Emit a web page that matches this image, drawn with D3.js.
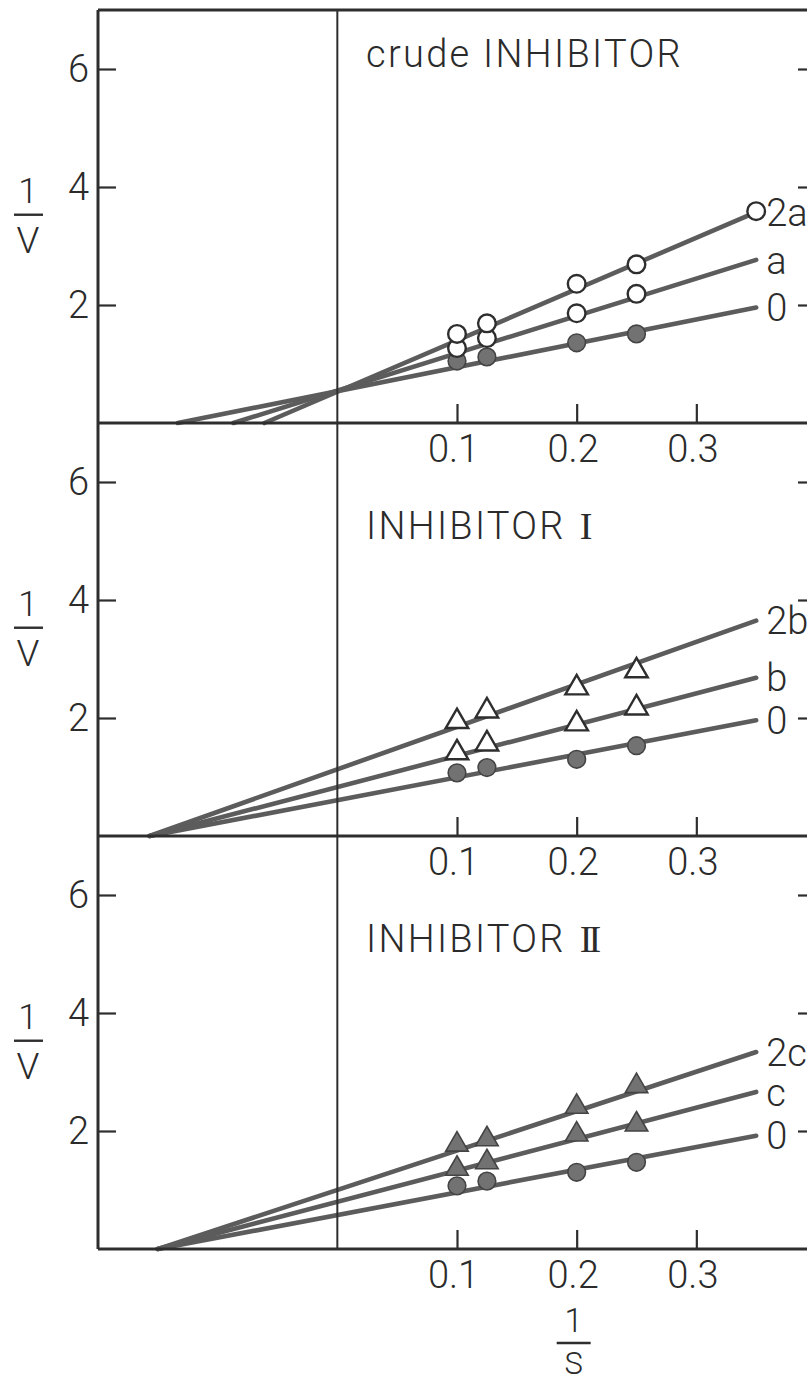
<!DOCTYPE html>
<html>
<head>
<meta charset="utf-8">
<script src="https://cdn.jsdelivr.net/npm/d3@7"></script>
<style>
  html, body { margin: 0; padding: 0; background: #fff; }
  svg { display: block; }
  text { font-family: Roboto, "Liberation Sans", sans-serif; font-weight: 300; fill: #2b2b2b; }
</style>
</head>
<body>
<svg id="chart" width="807" height="1385"></svg>
<script>
// Reciprocal substrate concentrations (1/S) at which rates were measured
const invS = [0.1, 0.125, 0.2, 0.25];
const invSLong = [0.1, 0.125, 0.2, 0.25, 0.35];

// Crude inhibitor: reciprocal velocities (1/V)
const crudeNone = [1.05, 1.12, 1.36, 1.51];
const crudeA = [1.27, 1.44, 1.86, 2.19];
const crude2A = [1.51, 1.69, 2.36, 2.69, 3.59];
const crudeLabels = ["0", "a", "2a"];
const crudeIntercepts = [0.54, 0.55, 0.53];
const crudeSlopes = [4.05, 6.33, 8.7];

// Inhibitor I
const inhINone = [1.07, 1.16, 1.30, 1.53];
const inhIB = [1.41, 1.56, 1.90, 2.17];
const inhI2B = [1.94, 2.12, 2.51, 2.80];
const inhILabels = ["0", "b", "2b"];
const inhIIntercepts = [0.607, 0.83, 1.13];
const inhISlopes = [3.87, 5.29, 7.2];

// Inhibitor II
const inhIINone = [1.07, 1.15, 1.30, 1.47];
const inhIIC = [1.36, 1.47, 1.94, 2.11];
const inhII2C = [1.77, 1.86, 2.41, 2.76];
const inhIILabels = ["0", "c", "2c"];
const inhIIIntercepts = [0.576, 0.80, 1.0];
const inhIISlopes = [3.84, 5.32, 6.68];

// Axis ticks
const xTicks = [0.1, 0.2, 0.3];
const yTicks = [2, 4, 6];
const fitEnd = 0.35;

const panels = [
  { title: "crude INHIBITOR", numeral: "",
    series: [
      { x: invS, y: crudeNone, marker: "circle", filled: true },
      { x: invS, y: crudeA, marker: "circle", filled: false },
      { x: invSLong, y: crude2A, marker: "circle", filled: false }
    ],
    labels: crudeLabels, intercepts: crudeIntercepts, slopes: crudeSlopes },
  { title: "INHIBITOR", numeral: "I",
    series: [
      { x: invS, y: inhINone, marker: "circle", filled: true },
      { x: invS, y: inhIB, marker: "triangle", filled: false },
      { x: invS, y: inhI2B, marker: "triangle", filled: false }
    ],
    labels: inhILabels, intercepts: inhIIntercepts, slopes: inhISlopes },
  { title: "INHIBITOR", numeral: "II",
    series: [
      { x: invS, y: inhIINone, marker: "circle", filled: true },
      { x: invS, y: inhIIC, marker: "triangle", filled: true },
      { x: invS, y: inhII2C, marker: "triangle", filled: true }
    ],
    labels: inhIILabels, intercepts: inhIIIntercepts, slopes: inhIISlopes }
];

const svg = d3.select("#chart");
const ink = "#2e2e2e";
const lineInk = "#5c5c5c";
const grayFill = "#727272";

const left = 98, right = 816;
const panelTop0 = 10, panelH = 413;

const x = d3.scaleLinear().domain([-0.2, 0.4]).range([left, right]);

panels.forEach((p, i) => {
  const top = panelTop0 + i * panelH;
  const bottom = top + panelH;
  const y = d3.scaleLinear().domain([0, 7]).range([bottom, top]);
  const g = svg.append("g");

  // fitted double-reciprocal lines, from the 1/S intercept to the last point
  const line = d3.line().x(d => x(d[0])).y(d => y(d[1]));
  p.intercepts.forEach((b, k) => {
    const m = p.slopes[k];
    const pts = [[-b / m, 0], [fitEnd, b + m * fitEnd]];
    g.append("path").attr("d", line(pts))
      .attr("fill", "none").attr("stroke", lineInk)
      .attr("stroke-width", 4.6).attr("stroke-linecap", "round");
    g.append("text")
      .attr("x", x(fitEnd) + 10)
      .attr("y", y(b + m * fitEnd))
      .attr("dy", "0.36em")
      .attr("font-size", 38)
      .text(p.labels[k]);
  });

  // measured points
  p.series.forEach(s => {
    const sym = d3.symbol()
      .type(s.marker === "circle" ? d3.symbolCircle : d3.symbolTriangle)
      .size(s.marker === "circle" ? 245 : 220);
    g.selectAll(null).data(s.x.map((v, j) => [v, s.y[j]])).join("path")
      .attr("d", sym)
      .attr("transform", d => `translate(${x(d[0])},${y(d[1])})`)
      .attr("fill", s.filled ? grayFill : "#fff")
      .attr("stroke", s.filled ? "#444" : ink)
      .attr("stroke-width", s.filled ? 1.6 : 2.4);
  });

  // panel title
  const t = g.append("text")
    .attr("x", 366)
    .attr("y", i === 0 ? top + 57 : top + 116)
    .attr("font-size", 38)
    .attr("letter-spacing", 2.3)
    .text(p.title);
  if (p.numeral) {
    t.append("tspan")
      .attr("font-family", "'Liberation Serif', serif")
      .attr("font-weight", 400)
      .attr("letter-spacing", p.numeral.length > 1 ? -4 : 0)
      .attr("dx", 14)
      .text(p.numeral);
  }

  // left axis ticks and labels
  const yAxis = d3.axisLeft(y).tickValues(yTicks).tickSize(-18).tickPadding(9)
    .tickFormat(d3.format("d"));
  const ya = g.append("g").attr("transform", `translate(${left},0)`).call(yAxis);
  ya.select(".domain").remove();
  ya.selectAll("line").attr("stroke", ink).attr("stroke-width", 2.2);
  ya.selectAll("text").attr("font-size", 38).attr("font-family", null).attr("fill", "#2b2b2b");

  // right axis ticks (frame lies just beyond the visible area)
  const yr = d3.axisRight(y).tickValues(yTicks).tickSize(-18).tickFormat("");
  const yra = g.append("g").attr("transform", `translate(${right},0)`).call(yr);
  yra.select(".domain").remove();
  yra.selectAll("line").attr("stroke", ink).attr("stroke-width", 2.2);

  // bottom axis ticks and labels
  const xAxis = d3.axisBottom(x).tickValues(xTicks).tickSize(-19).tickPadding(12)
    .tickFormat(d3.format(".1f"));
  const xa = g.append("g").attr("transform", `translate(0,${bottom})`).call(xAxis);
  xa.select(".domain").remove();
  xa.selectAll("line").attr("stroke", ink).attr("stroke-width", 2.2);
  xa.selectAll("text").attr("font-size", 38).attr("font-family", null)
    .attr("fill", "#2b2b2b").attr("dx", -4);

  // panel bottom edge
  g.append("line").attr("x1", left).attr("x2", right)
    .attr("y1", bottom).attr("y2", bottom)
    .attr("stroke", ink).attr("stroke-width", 3);

  // 1/V axis title
  const yc = y(3.53);
  const yl = g.append("g").attr("transform", `translate(28,${yc})`);
  yl.append("text").attr("text-anchor", "middle").attr("y", -12)
    .attr("font-size", 35).text("1");
  yl.append("line").attr("x1", -14).attr("x2", 15)
    .attr("stroke", ink).attr("stroke-width", 2.4);
  yl.append("text").attr("text-anchor", "middle").attr("y", 38)
    .attr("font-size", 37).text("V");
});

const yTop = panelTop0, yBottom = panelTop0 + 3 * panelH;

// outer frame: top edge and left axis
svg.append("line").attr("x1", left).attr("x2", right)
  .attr("y1", yTop).attr("y2", yTop).attr("stroke", ink).attr("stroke-width", 3);
svg.append("line").attr("x1", left).attr("x2", left)
  .attr("y1", yTop).attr("y2", yBottom).attr("stroke", ink).attr("stroke-width", 3);

// 1/S = 0 reference line through all panels
svg.append("line").attr("x1", x(0)).attr("x2", x(0))
  .attr("y1", yTop).attr("y2", yBottom).attr("stroke", ink).attr("stroke-width", 2);

// 1/S axis title
const sl = svg.append("g").attr("transform", `translate(${x(0.2) - 3},${yBottom + 94})`);
sl.append("text").attr("text-anchor", "middle").attr("y", -11)
  .attr("font-size", 33).text("1");
sl.append("line").attr("x1", -17).attr("x2", 17)
  .attr("stroke", ink).attr("stroke-width", 2.4);
sl.append("text").attr("text-anchor", "middle").attr("y", 31)
  .attr("font-size", 31).text("S");
</script>
</body>
</html>
